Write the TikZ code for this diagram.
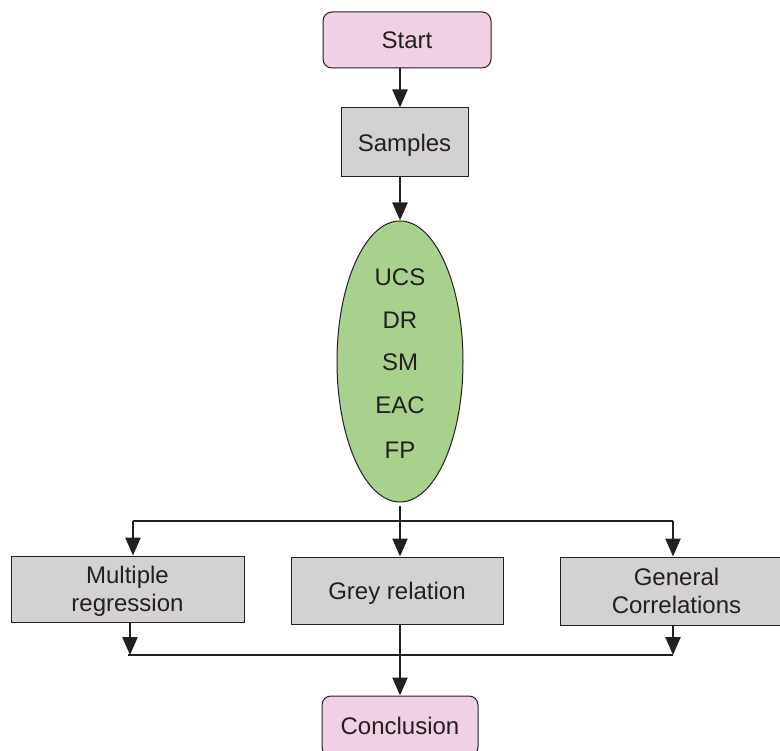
\documentclass[tikz,border=0pt]{standalone}
\usepackage{fontspec}
\setmainfont{Liberation Sans}
\usetikzlibrary{arrows.meta,shapes.geometric}
\definecolor{pinkfill}{HTML}{F0D0E4}
\definecolor{greyfill}{HTML}{D3D2D1}
\definecolor{greenfill}{HTML}{A8D18D}
\definecolor{ink}{HTML}{231F20}
\begin{document}
\begin{tikzpicture}[x=1pt,y=-1pt,
  every node/.style={font=\fontsize{24}{28}\selectfont, text=ink},
  term/.style={draw=ink, line width=1pt, fill=pinkfill, rounded corners=9pt, inner sep=0pt},
  proc/.style={draw=ink, line width=1pt, fill=greyfill, inner sep=0pt, align=center, text depth=0pt},
  flow/.style={draw=ink, line width=2.4pt, -{Triangle[length=18pt,width=15pt]}},
  bus/.style={draw=ink, line width=2pt}]
\useasboundingbox (0,0) rectangle (780,751);
% nodes
\node[term, minimum width=168pt, minimum height=56pt] (start) at (407,40) {Start};
\node[proc, minimum width=127pt, minimum height=69pt] (samples) at (404.5,142.5) {Samples};
\node[ellipse, draw=ink, line width=1pt, fill=greenfill, minimum width=126pt, minimum height=281pt, inner sep=0pt] (ell) at (400,361.5) {};
\node at (400,277) {UCS};
\node at (400,320) {DR};
\node at (400,362) {SM};
\node at (400,405) {EAC};
\node at (400,450) {FP};
\node[proc, minimum width=233pt, minimum height=66pt] (mr) at (127.5,589) {Multiple\\regression};
\node[proc, minimum width=212pt, minimum height=67pt] (gr) at (397,590.5) {Grey relation};
\node[proc, minimum width=233pt, minimum height=68pt] (gc) at (676.5,591) {General\\Correlations};
\node[term, minimum width=156pt, minimum height=60pt] (conc) at (400,726) {Conclusion};
% coordinates
\coordinate (bl) at (133,521);
\coordinate (br) at (673,521);
\coordinate (ll) at (130,655);
\coordinate (lr) at (673,655);
% connectors
\draw[flow] (start.south -| 400,0) -- (samples.north -| 400,0);
\draw[flow] (samples.south -| 400,0) -- (ell.north);
\draw[bus] (bl) -- (br);
\draw[flow] (ell.south) ++(0,4) -- (gr.north -| ell.south);
\draw[flow] (bl) -- (bl |- mr.north);
\draw[flow] (br) -- (br |- gc.north);
\draw[flow] (ll |- mr.south) -- (ll);
\draw[flow] (lr |- gc.south) -- (lr);
\draw[bus] (128,655) -- (lr);
\draw[flow] (gr.south -| conc.north) -- (conc.north);
\end{tikzpicture}
\end{document}
